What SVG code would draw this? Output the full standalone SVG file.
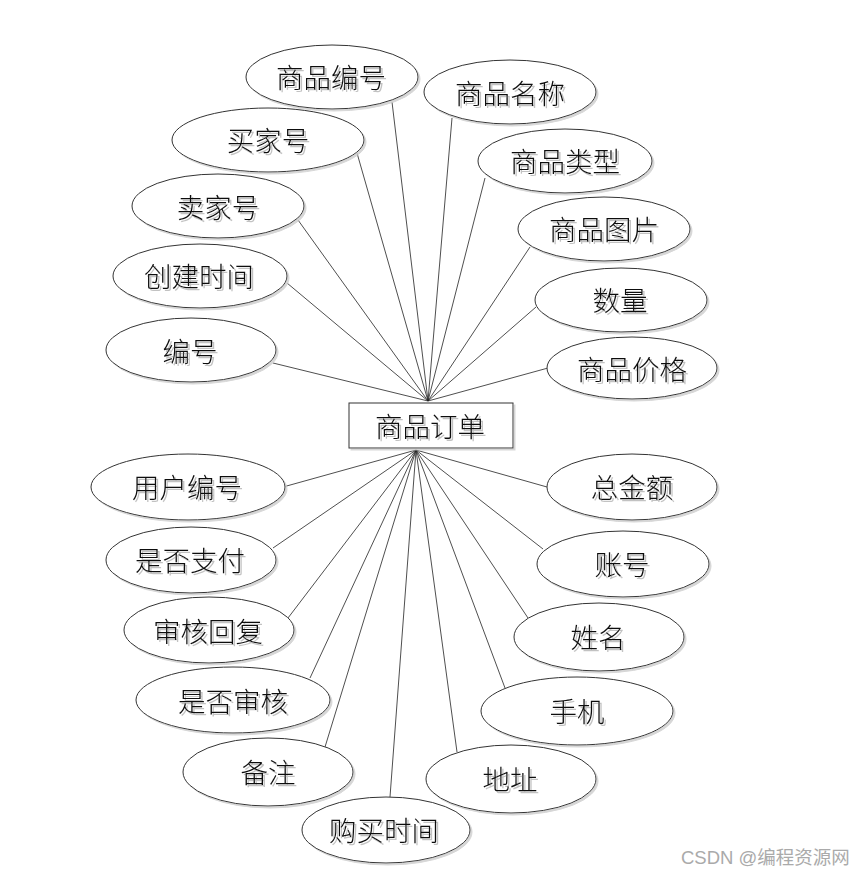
<svg xmlns="http://www.w3.org/2000/svg" width="866" height="875" viewBox="0 0 866 875">
<defs>
<filter id="ts" x="-10%" y="-20%" width="130%" height="150%"><feDropShadow dx="2" dy="2" stdDeviation="0.6" flood-color="#999" flood-opacity="0.6"/></filter>
<filter id="es" x="-5%" y="-10%" width="115%" height="130%"><feDropShadow dx="2" dy="2" stdDeviation="0.4" flood-color="#ccc" flood-opacity="0.8"/></filter>
</defs>
<style>
.e{fill:#fff;stroke:#333;stroke-width:1;filter:url(#es)}
.t{font-family:"Noto Sans CJK SC","Noto Sans",sans-serif;font-size:27.5px;font-weight:300;fill:#111;text-anchor:middle;dominant-baseline:central;filter:url(#ts)}
.c line{stroke:#222;stroke-width:0.8}
.wm{font-family:"Liberation Sans","Noto Sans CJK SC",sans-serif;font-size:18.5px;fill:#aaa}
</style>
<rect width="866" height="875" fill="#fff"/>
<g class="c" id="connectors">
<line x1="428" y1="401" x2="392" y2="102"/>
<line x1="428" y1="401" x2="357" y2="153"/>
<line x1="428" y1="401" x2="298" y2="220"/>
<line x1="428" y1="401" x2="287" y2="283"/>
<line x1="428" y1="401" x2="273" y2="363"/>
<line x1="428" y1="401" x2="452" y2="118"/>
<line x1="428" y1="401" x2="485" y2="178"/>
<line x1="428" y1="401" x2="530" y2="247"/>
<line x1="428" y1="401" x2="536" y2="307"/>
<line x1="428" y1="401" x2="548" y2="368"/>
<line x1="416" y1="450" x2="283" y2="487"/>
<line x1="416" y1="450" x2="273" y2="548"/>
<line x1="416" y1="450" x2="288" y2="618"/>
<line x1="416" y1="450" x2="310" y2="678"/>
<line x1="416" y1="450" x2="325" y2="747"/>
<line x1="416" y1="450" x2="390" y2="797"/>
<line x1="416" y1="450" x2="547" y2="487"/>
<line x1="416" y1="450" x2="543" y2="549"/>
<line x1="416" y1="450" x2="528" y2="618"/>
<line x1="416" y1="450" x2="505" y2="688"/>
<line x1="416" y1="450" x2="457" y2="752"/>
</g>
<g id="entity">
<rect x="349" y="403" width="164" height="45" fill="#fff" stroke="#333" stroke-width="1" filter="url(#es)"/>
<text class="t" x="430" y="425">商品订单</text>
</g>
<g id="a1"><ellipse class="e" cx="332" cy="77" rx="86" ry="32"/><text class="t" x="331" y="76">商品编号</text></g>
<g id="a2"><ellipse class="e" cx="268" cy="140" rx="96" ry="32"/><text class="t" x="268" y="139">买家号</text></g>
<g id="a3"><ellipse class="e" cx="218" cy="206" rx="86" ry="32"/><text class="t" x="218" y="206">卖家号</text></g>
<g id="a4"><ellipse class="e" cx="200" cy="276" rx="87" ry="32"/><text class="t" x="199" y="275">创建时间</text></g>
<g id="a5"><ellipse class="e" cx="191" cy="350" rx="85" ry="32"/><text class="t" x="190" y="350">编号</text></g>
<g id="a6"><ellipse class="e" cx="510" cy="92" rx="86" ry="32"/><text class="t" x="510" y="92">商品名称</text></g>
<g id="a7"><ellipse class="e" cx="565" cy="161" rx="87" ry="32"/><text class="t" x="565" y="160">商品类型</text></g>
<g id="a8"><ellipse class="e" cx="604" cy="229" rx="86" ry="32"/><text class="t" x="604" y="228">商品图片</text></g>
<g id="a9"><ellipse class="e" cx="621" cy="300" rx="86" ry="32"/><text class="t" x="620" y="299">数量</text></g>
<g id="a10"><ellipse class="e" cx="632" cy="368" rx="85" ry="31"/><text class="t" x="632" y="368">商品价格</text></g>
<g id="a11"><ellipse class="e" cx="188" cy="487" rx="97" ry="33"/><text class="t" x="187" y="486">用户编号</text></g>
<g id="a12"><ellipse class="e" cx="191" cy="560" rx="85" ry="33"/><text class="t" x="190" y="559">是否支付</text></g>
<g id="a13"><ellipse class="e" cx="209" cy="630" rx="85" ry="33"/><text class="t" x="208" y="630">审核回复</text></g>
<g id="a14"><ellipse class="e" cx="233" cy="700" rx="97" ry="33"/><text class="t" x="233" y="700">是否审核</text></g>
<g id="a15"><ellipse class="e" cx="268" cy="772" rx="85" ry="34"/><text class="t" x="268" y="771">备注</text></g>
<g id="a16"><ellipse class="e" cx="386" cy="830" rx="84" ry="33"/><text class="t" x="384" y="829">购买时间</text></g>
<g id="a17"><ellipse class="e" cx="632" cy="487" rx="85" ry="33"/><text class="t" x="632" y="486">总金额</text></g>
<g id="a18"><ellipse class="e" cx="623" cy="564" rx="86" ry="33"/><text class="t" x="622" y="563">账号</text></g>
<g id="a19"><ellipse class="e" cx="599" cy="637" rx="85" ry="34"/><text class="t" x="598" y="636">姓名</text></g>
<g id="a20"><ellipse class="e" cx="577" cy="711" rx="96" ry="34"/><text class="t" x="577" y="710">手机</text></g>
<g id="a21"><ellipse class="e" cx="511" cy="779" rx="85" ry="34"/><text class="t" x="510" y="778">地址</text></g>
<text class="wm" x="681" y="864">CSDN @编程资源网</text>
</svg>
